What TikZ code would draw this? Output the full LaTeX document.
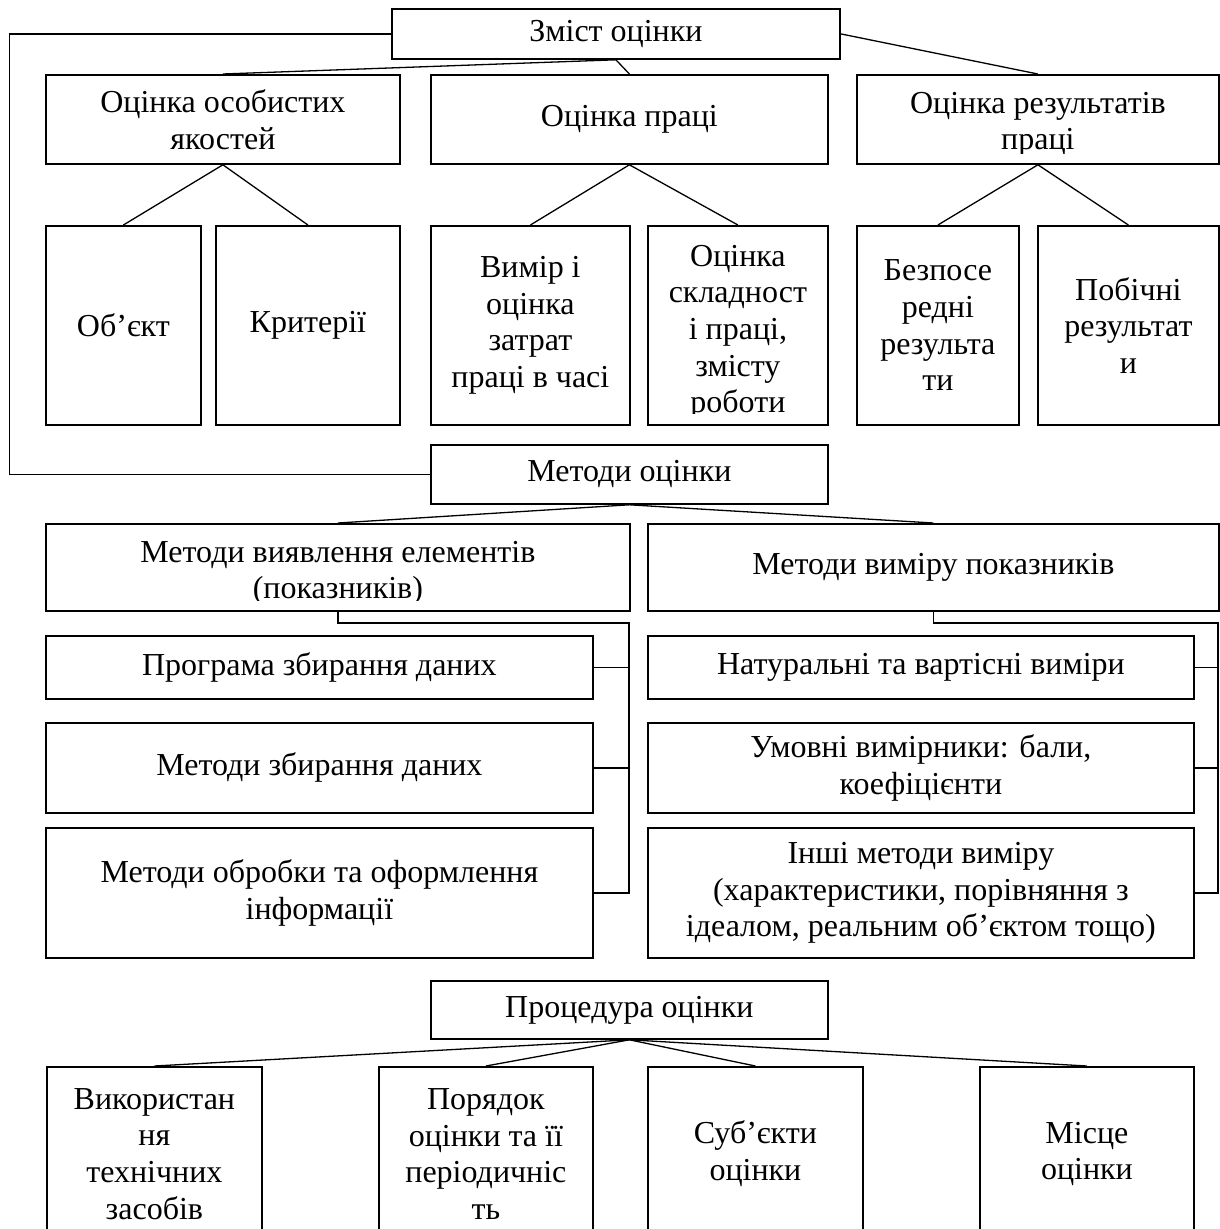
\documentclass[tikz,border=0pt]{standalone}
\usepackage{fontspec}
\setmainfont{Liberation Serif}
\usetikzlibrary{calc}
\def\CxA{45}
\def\CxB{430}
\def\CxC{647}
\def\CxD{856}
\tikzset{
  box/.style={
    draw, line width=1.8pt, anchor=north west, inner sep=0pt,
    align=center, font=\fontsize{32}{36.7}\selectfont,
  },
  lbl/.style={align=center, font=\fontsize{32}{36.7}\selectfont, inner sep=0pt},
  lnk/.style={line width=1.3pt},
  bus/.style={line width=1.8pt},
}
\begin{document}
\begin{tikzpicture}[x=1pt,y=-1pt]
  \useasboundingbox (0,0) rectangle (1220,1229);

  % Зміст
  \node[box, minimum width=448, minimum height=50] (zmist) at (391,8) {Зміст оцінки};
  \node[box, minimum width=354, minimum height=89] (osob) at (\CxA,74) {Оцінка особистих\\якостей};
  \node[box, minimum width=397, minimum height=89] (prac) at (\CxB,74) {Оцінка праці};
  \node[box, minimum width=362, minimum height=89] (rez) at (\CxD,74) {};
  \begin{scope}
    \clip (rez.north west) rectangle ([yshift=11pt]rez.south east);
    \node[lbl] (rezt) at ([yshift=-5pt]rez.center) {Оцінка результатів\\праці};
  \end{scope}

  \node[box, minimum width=155, minimum height=199] (obj) at (\CxA,225) {Об’єкт};
  \node[box, minimum width=184, minimum height=199] (krit) at (215,225) {Критерії};
  \node[box, minimum width=199, minimum height=199] (vym) at (\CxB,225) {Вимір і\\оцінка\\затрат\\праці в часі};
  \node[box, minimum width=180, minimum height=199] (skl) at (\CxC,225) {};
  \begin{scope}
    \clip (skl.north west) rectangle ([yshift=12pt]skl.south east);
    \node[lbl] (sklt) at ([yshift=-7pt]skl.center) {Оцінка\\складност\\і праці,\\змісту\\роботи};
  \end{scope}
  \node[box, minimum width=162, minimum height=199] (bezp) at (\CxD,225) {Безпосе\\редні\\результа\\ти};
  \node[box, minimum width=181, minimum height=199] (pob) at (1037,225) {Побічні\\результат\\и};

  \draw[lnk] (zmist.south) -- (osob.north);
  \draw[lnk] (zmist.south) -- (prac.north);
  \draw[lnk] (zmist.east) -- (rez.north);
  \draw[lnk] (obj.north) -- (osob.south) -- (krit.north);
  \draw[lnk] (vym.north) -- (prac.south) -- (skl.north);
  \draw[lnk] (bezp.north) -- (rez.south) -- (pob.north);

  % Методи
  \node[box, minimum width=397, minimum height=59] (metod) at (\CxB,444) {Методи оцінки};
  \coordinate (frame) at (9.5,250);
  \draw[bus] (zmist.west) -| (frame) |- (metod.west);
  \node[box, minimum width=584, minimum height=87] (vyav) at (\CxA,523) {};
  \begin{scope}
    \clip (vyav.north west) rectangle ([yshift=11pt]vyav.south east);
    \node[lbl] (vyavt) at ([yshift=-6pt]vyav.center) {Методи виявлення елементів\\(показників)};
  \end{scope}
  \node[box, minimum width=571, minimum height=87] (vymir) at (\CxC,523) {Методи виміру показників};
  \draw[lnk] (vyav.north) -- (metod.south) -- (vymir.north);

  \node[box, minimum width=547, minimum height=63] (prog) at (\CxA,635) {Програма збирання даних};
  \node[box, minimum width=547, minimum height=90] (zbyr) at (\CxA,722) {Методи збирання даних};
  \node[box, minimum width=547, minimum height=130] (obr) at (\CxA,827) {Методи обробки та оформлення\\інформації};
  \node[box, minimum width=546, minimum height=63] (nat) at (\CxC,635) {Натуральні та вартісні виміри};
  \node[box, minimum width=546, minimum height=90] (umov) at (\CxC,722) {Умовні вимірники: бали,\\коефіцієнти};
  \node[box, minimum width=546, minimum height=130] (insh) at (\CxC,827) {Інші методи виміру\\(характеристики, порівняння з\\ідеалом, реальним об’єктом тощо)};

  \coordinate (busL) at (629,623);
  \draw[bus] (vyav.south) |- (busL) -- (busL |- obr.east) -- (obr.east);
  \draw[bus] (prog.east) -- (prog.east -| busL);
  \draw[bus] (zbyr.east) -- (zbyr.east -| busL);
  \coordinate (busR) at (1218,623);
  \draw[bus] (vymir.south) |- (busR) -- (busR |- insh.east) -- (insh.east);
  \draw[bus] (nat.east) -- (nat.east -| busR);
  \draw[bus] (umov.east) -- (umov.east -| busR);

  % Процедура
  \node[box, minimum width=397, minimum height=58] (proc) at (\CxB,980) {Процедура оцінки};
  \node[box, minimum width=215, minimum height=174] (tekh) at (46,1066) {Використан\\ня\\технічних\\засобів};
  \node[box, minimum width=214, minimum height=174] (poriad) at (378,1066) {Порядок\\оцінки та її\\періодичніс\\ть};
  \node[box, minimum width=215, minimum height=174] (subj) at (\CxC,1066) {Суб’єкти\\оцінки};
  \node[box, minimum width=214, minimum height=174] (mist) at (979,1066) {Місце\\оцінки};
  \draw[lnk] (proc.south) -- (tekh.north);
  \draw[lnk] (proc.south) -- (poriad.north);
  \draw[lnk] (proc.south) -- (subj.north);
  \draw[lnk] (proc.south) -- (mist.north);
\end{tikzpicture}
\end{document}
